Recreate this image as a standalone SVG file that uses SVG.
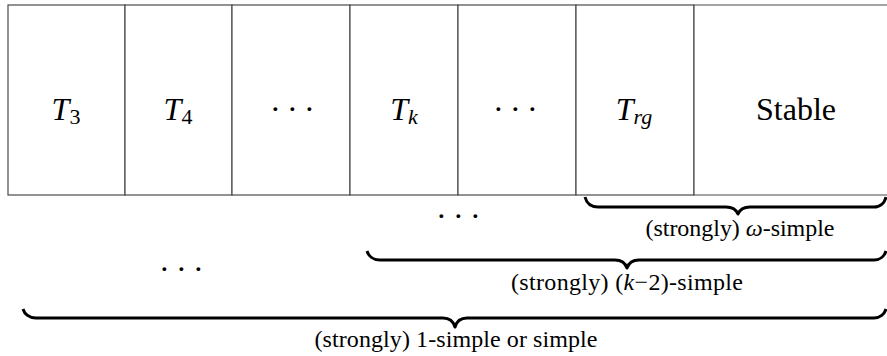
<svg xmlns="http://www.w3.org/2000/svg" width="887" height="356" viewBox="0 0 887 356">
<style>
.cell{fill:#fff;stroke:#4a4a4a;stroke-width:1.2}
.big{font-size:32px;fill:#000}
.it{font-style:italic}
.sub{font-size:22px}
.dots{font-size:32px;fill:#000;letter-spacing:6.3px}
.lbl{font-size:24px;fill:#000;text-anchor:middle}
.brace{fill:none;stroke:#000;stroke-width:3;stroke-linecap:butt;stroke-linejoin:round}
</style>
<rect width="887" height="356" fill="#fff"/>
<g id="cell-T3"><rect class="cell" x="8" y="5" width="117" height="190"/>
<text class="big" font-family="Liberation Serif" x="66" y="120" text-anchor="middle"><tspan class="it">T</tspan><tspan class="sub" dy="4">3</tspan></text></g>
<g id="cell-T4"><rect class="cell" x="125" y="5" width="107" height="190"/>
<text class="big" font-family="Liberation Serif" x="178" y="120" text-anchor="middle"><tspan class="it">T</tspan><tspan class="sub" dy="4">4</tspan></text></g>
<g id="cell-dots1"><rect class="cell" x="232" y="5" width="118" height="190"/>
<text class="dots" font-family="Liberation Serif" x="270" y="120">···</text></g>
<g id="cell-Tk"><rect class="cell" x="350" y="5" width="108" height="190"/>
<text class="big" font-family="Liberation Serif" x="404" y="120" text-anchor="middle"><tspan class="it">T</tspan><tspan class="sub it" dy="4">k</tspan></text></g>
<g id="cell-dots2"><rect class="cell" x="458" y="5" width="118" height="190"/>
<text class="dots" font-family="Liberation Serif" x="493" y="120">···</text></g>
<g id="cell-Trg"><rect class="cell" x="576" y="5" width="118" height="190"/>
<text class="big" font-family="Liberation Serif" x="634" y="120" text-anchor="middle"><tspan class="it">T</tspan><tspan class="sub it" dy="4">rg</tspan></text></g>
<g id="cell-Stable"><path class="cell" d="M887 5H694V195H887"/>
<text class="big" font-family="Liberation Serif" x="796" y="120" text-anchor="middle">Stable</text></g>
<g id="braces">
<path class="brace" d="M585 197C586.5 203 591 207 598 207H726C732 207 736 209 738 214C740 209 744 207 750 207H874C880 207 884.5 203 886 197"/>
<path class="brace" d="M367 251C368.5 256 373 260 380 260H615C621 260 625 262 627 268C629 262 633 260 639 260H874C880 260 884.5 256 886 251"/>
<path class="brace" d="M23 309C24.5 314 29 318 36 318H443C449 318 453 320 455 327C457 320 461 318 467 318H874C880 318 884.5 314 886 309"/>
</g>
<g id="labels">
<text class="dots" font-family="Liberation Serif" x="436" y="227">···</text>
<text class="dots" font-family="Liberation Serif" x="159" y="280">···</text>
<text class="lbl" font-family="Liberation Serif" x="740" y="236" textLength="189" lengthAdjust="spacing">(strongly) <tspan class="it">ω</tspan>-simple</text>
<text class="lbl" font-family="Liberation Serif" x="627" y="290" textLength="232" lengthAdjust="spacing">(strongly) (<tspan class="it">k</tspan>−2)-simple</text>
<text class="lbl" font-family="Liberation Serif" x="456" y="347" textLength="283" lengthAdjust="spacing">(strongly) 1-simple or simple</text>
</g>
</svg>
